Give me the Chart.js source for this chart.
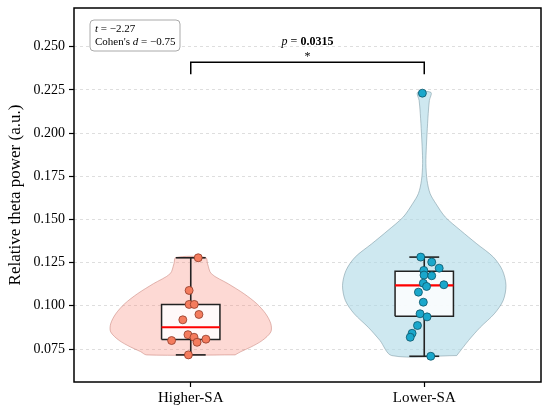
<!DOCTYPE html>
<html>
<head>
<meta charset="utf-8">
<script src="https://cdn.jsdelivr.net/npm/chart.js@4.4.0/dist/chart.umd.min.js"></script>
<style>
  html,body{margin:0;padding:0;background:#fff;}
  #wrap{width:550px;height:413px;}
</style>
</head>
<body>
<div id="wrap"><canvas id="chart" width="550" height="413"></canvas></div>
<script>
// --------- DATA ----------
const groups = ['Higher-SA', 'Lower-SA'];
const yTicks = [0.075, 0.100, 0.125, 0.150, 0.175, 0.200, 0.225, 0.250];

// subjects: value + horizontal jitter
const higherY   = [0.1278, 0.1089, 0.1008, 0.1008, 0.0950, 0.0919, 0.0833, 0.0818, 0.0789, 0.0807, 0.0799, 0.0716];
const higherJit = [0.032, -0.007, -0.007, 0.015, 0.035, -0.034, -0.012, 0.014, 0.027, 0.065, -0.082, -0.010];
const lowerY    = [0.1282, 0.1253, 0.1218, 0.1205, 0.1178, 0.1174, 0.1131, 0.1112, 0.1122, 0.1079, 0.1021, 0.0954, 0.0936, 0.0886, 0.0841, 0.0818, 0.0708, 0.2231];
const lowerJit  = [-0.015, 0.032, 0.064, -0.002, -0.001, 0.032, -0.004, 0.010, 0.084, -0.025, -0.004, -0.018, 0.012, -0.029, -0.052, -0.060, 0.028, -0.008];

// box stats: min, q1, median, q3, max
const higherBox = [0.0716, 0.0805, 0.0876, 0.1008, 0.1278];
const lowerBox  = [0.0708, 0.0940, 0.1118, 0.1200, 0.1282];

// violin outlines: level and half width
const higherVioY = [0.0716, 0.0735, 0.0761, 0.0800, 0.0849, 0.0896, 0.0954, 0.1012, 0.1070, 0.1128, 0.1186, 0.1244, 0.1280];
const higherVioW = [0.190, 0.215, 0.257, 0.307, 0.343, 0.343, 0.321, 0.283, 0.228, 0.160, 0.088, 0.072, 0.064];
const lowerVioY  = [0.0712, 0.0800, 0.0876, 0.0954, 0.1031, 0.1118, 0.1205, 0.1282, 0.1359, 0.1437, 0.1514, 0.1591, 0.1650, 0.1726, 0.1823, 0.1920, 0.2000, 0.2113, 0.2189, 0.2235];
const lowerVioW  = [0.139, 0.190, 0.240, 0.300, 0.338, 0.350, 0.335, 0.296, 0.225, 0.155, 0.090, 0.050, 0.025, 0.012, 0.007, 0.009, 0.012, 0.017, 0.022, 0.029];

// significance bracket
const bracketY = [0.2340, 0.2410];
const pText = '0.0315';
const statT = '−2.27';
const statD = '−0.75';

// --------- HELPERS ----------
const SERIF = "'Liberation Serif','Times New Roman',serif";
const BOX_HALF = 0.125, CAP_HALF = 0.064;

function violin(c, ys, ws, fill, border){
  const pts = ys.map((y,i)=>({x:c+ws[i], y}));
  for(let i=ys.length-1;i>=0;i--) pts.push({x:c-ws[i], y:ys[i]});
  pts.push(pts[0]);
  return {data:pts, showLine:true, fill:'shape', backgroundColor:fill, borderColor:border,
          borderWidth:1, pointRadius:0, tension:0.3, order:10};
}
function seg(pts, color, width, order, fill){
  return {data:pts, showLine:true, fill: fill ? 'shape' : false, backgroundColor: fill || 'transparent',
          borderColor:color, borderWidth:width, pointRadius:0, tension:0, order};
}
function boxParts(c, b){
  const [mn,q1,md,q3,mx] = b;
  return [
    seg([{x:c,y:q3},{x:c,y:mx}], '#222', 1.6, 6),
    seg([{x:c-CAP_HALF,y:mx},{x:c+CAP_HALF,y:mx}], '#222', 1.6, 6),
    seg([{x:c,y:q1},{x:c,y:mn}], '#222', 1.6, 6),
    seg([{x:c-CAP_HALF,y:mn},{x:c+CAP_HALF,y:mn}], '#222', 1.6, 6),
    seg([{x:c-BOX_HALF,y:q1},{x:c+BOX_HALF,y:q1},{x:c+BOX_HALF,y:q3},{x:c-BOX_HALF,y:q3},{x:c-BOX_HALF,y:q1}],
        '#222', 1.5, 5, 'rgba(255,255,255,0.85)'),
    seg([{x:c-BOX_HALF,y:md},{x:c+BOX_HALF,y:md}], '#ff0000', 2.2, 4)
  ];
}
function dots(c, ys, jit, fill, edge){
  return {data: ys.map((y,i)=>({x:c+jit[i], y})), backgroundColor:fill, borderColor:edge,
          borderWidth:0.8, pointRadius:4, order:1};
}

// --------- PLUGINS ----------
const framePlugin = {
  id:'frame',
  afterDraw(chart){
    const {ctx, chartArea:a} = chart;
    ctx.save();
    ctx.strokeStyle = '#000'; ctx.lineWidth = 1.5;
    ctx.strokeRect(a.left, a.top, a.right-a.left, a.bottom-a.top);
    ctx.restore();
  }
};

function drawRuns(ctx, runs, x, y, align){
  let total = 0;
  runs.forEach(r=>{ ctx.font = r.font; r.w = ctx.measureText(r.t).width; total += r.w; });
  let cx = align==='center' ? x - total/2 : x;
  runs.forEach(r=>{ ctx.font = r.font; ctx.fillText(r.t, cx, y); cx += r.w; });
}

const labelPlugin = {
  id:'labels',
  afterDraw(chart){
    const {ctx, chartArea:a, scales:{x, y}} = chart;
    ctx.save();
    ctx.fillStyle = '#000';
    ctx.textBaseline = 'middle'; ctx.textAlign = 'left';
    // p value + star above bracket
    const mid = x.getPixelForValue(0.5);
    drawRuns(ctx, [
      {t:'p', font:`italic 12px ${SERIF}`},
      {t:' = ', font:`12px ${SERIF}`},
      {t:pText, font:`bold 12px ${SERIF}`}
    ], mid, y.getPixelForValue(0.2527), 'center');
    drawRuns(ctx, [{t:'*', font:`12px ${SERIF}`}], mid, y.getPixelForValue(0.2440), 'center');

    // stats box
    const bx = a.left + 16, by = a.top + 12, bw = 90, bh = 31;
    ctx.beginPath();
    ctx.roundRect(bx, by, bw, bh, 4);
    ctx.fillStyle = 'rgba(255,255,255,0.9)'; ctx.fill();
    ctx.strokeStyle = '#aaaaaa'; ctx.lineWidth = 1; ctx.stroke();
    ctx.fillStyle = '#000';
    drawRuns(ctx, [
      {t:'t', font:`italic 11px ${SERIF}`},
      {t:' = ' + statT, font:`11px ${SERIF}`}
    ], bx + 5, by + 9, 'left');
    drawRuns(ctx, [
      {t:"Cohen's ", font:`11px ${SERIF}`},
      {t:'d', font:`italic 11px ${SERIF}`},
      {t:' = ' + statD, font:`11px ${SERIF}`}
    ], bx + 5, by + 22, 'left');
    ctx.restore();
  }
};

// --------- CHART ----------
const datasets = [
  dots(0, higherY, higherJit, '#F47C5E', '#8f3a28'),
  dots(1, lowerY, lowerJit, '#1AA7CB', '#0d5468'),
  ...boxParts(0, higherBox),
  ...boxParts(1, lowerBox),
  violin(0, higherVioY, higherVioW, 'rgba(250,128,114,0.30)', 'rgba(200,130,120,0.55)'),
  violin(1, lowerVioY, lowerVioW, 'rgba(173,216,230,0.60)', 'rgba(120,150,160,0.55)'),
  seg([{x:0,y:bracketY[0]},{x:0,y:bracketY[1]},{x:1,y:bracketY[1]},{x:1,y:bracketY[0]}], '#000', 1.5, 0)
];

new Chart(document.getElementById('chart'), {
  type:'scatter',
  data:{datasets},
  options:{
    responsive:false,
    animation:false,
    layout:{padding:{left:0, right:9, top:8, bottom:0}},
    plugins:{legend:{display:false}, tooltip:{enabled:false}},
    scales:{
      x:{
        type:'linear', min:-0.5, max:1.5,
        afterBuildTicks: s => { s.ticks = groups.map((g,i)=>({value:i})); },
        afterFit: s => { s.height = 31; },
        ticks:{callback: v => groups[v], color:'#000', font:{family:SERIF, size:15}, padding:2, maxRotation:0},
        grid:{drawOnChartArea:false, drawTicks:true, tickLength:5, tickColor:'#000', tickWidth:1.2},
        border:{display:false}
      },
      y:{
        min:0.0559, max:0.2724,
        afterBuildTicks: s => { s.ticks = yTicks.map(v=>({value:v})); },
        afterFit: s => { s.width = 74; s.paddingTop = 0; s.paddingBottom = 0; },
        ticks:{callback: v => v.toFixed(3), color:'#000', font:{family:SERIF, size:14}, padding:4},
        grid:{color:'#d6d6d6', lineWidth:0.8, drawTicks:true, tickLength:5, tickColor:'#000', tickWidth:1.2},
        border:{display:false, dash:[3,3]},
        title:{display:true, text:'Relative theta power (a.u.)', color:'#000',
               font:{family:SERIF, size:17}, padding:{top:5, bottom:0}}
      }
    }
  },
  plugins:[framePlugin, labelPlugin]
});
</script>
</body>
</html>
